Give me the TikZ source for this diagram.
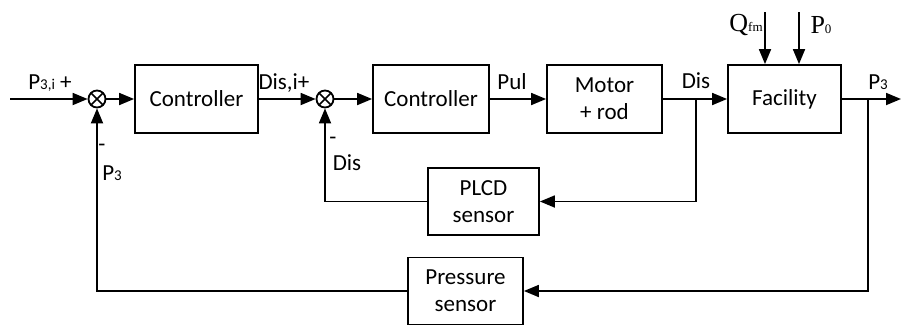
\documentclass[tikz,border=0pt]{standalone}
\usepackage{fontspec}
\setmainfont{Carlito}
\newfontfamily\serifF{Liberation Serif}
\usetikzlibrary{arrows.meta}
\begin{document}
\begin{tikzpicture}[x=1pt,y=-1pt,
  line width=1.8pt,
  font=\fontsize{23}{27}\selectfont,
  blk/.style={draw, minimum height=68pt, align=center, inner sep=0pt},
  sumnode/.style={draw, circle, minimum size=17pt, inner sep=0pt,
    path picture={\draw[line width=1.5pt] (path picture bounding box.north west) -- (path picture bounding box.south east)
      (path picture bounding box.north east) -- (path picture bounding box.south west);}},
  arr/.style={-{Triangle[length=15pt,width=12pt]}},
  lbl/.style={inner sep=0pt}
]
\useasboundingbox (0,0) rectangle (903,325);
\fill[white] (0,0) rectangle (903,325);

\node[sumnode] (s1) at (97,99) {};
\node[sumnode] (s2) at (325,99) {};
\node[blk, minimum width=123pt] (c1) at (196.5,99) {Controller};
\node[blk, minimum width=116pt] (c2) at (431,99) {Controller};
\node[blk, minimum width=115pt] (m) at (604.5,99) {Motor\\+ rod};
\node[blk, minimum width=113pt] (f) at (784.5,99) {Facility};
\node[blk, minimum width=111pt, minimum height=67pt] (pl) at (483.5,201.5) {PLCD\\sensor};
\node[blk, minimum width=115pt, minimum height=67pt] (ps) at (465.5,291) {Pressure\\sensor};

\coordinate (in) at (10,99);
\coordinate (out) at (901,99);
\coordinate (bd) at (696,99);
\coordinate (bp) at (868,99);
\coordinate (q0) at (765,12);
\coordinate (p0) at (799,12);

\draw[arr] (in) -- (s1);
\draw[arr] (s1) -- (c1);
\draw[arr] (c1) -- (s2);
\draw[arr] (s2) -- (c2);
\draw[arr] (c2) -- (m);
\draw[arr] (m) -- (f);
\draw[arr] (f) -- (out);
\draw[arr] (q0) -- (q0 |- f.north);
\draw[arr] (p0) -- (p0 |- f.north);
\draw[arr] (bd) |- (pl.east);
\draw[arr] (pl.west) -| (s2.south);
\draw[arr] (bp) |- (ps.east);
\draw[arr] (ps.west) -| (s1.south);

\node[lbl] (l1) at (50,83) {P{\fontsize{15}{15}\selectfont 3,i} +};
\node[lbl] (l2) at (284,83) {Dis,i+};
\node[lbl] (l3) at (512,82) {Pul};
\node[lbl] (l4) at (696,81) {Dis};
\node[lbl] (l5) at (878,82) {P{\fontsize{15}{15}\selectfont 3}};
\node[lbl] (l6) at (746,25) {\serifF\fontsize{26}{28}\selectfont Q{\fontsize{13}{13}\selectfont fm}};
\node[lbl] (l7) at (821,25) {\serifF\fontsize{26}{28}\selectfont P{\fontsize{13}{13}\selectfont 0}};
\node[lbl] (l8) at (102,148) {-};
\node[lbl] (l9) at (112,173) {P{\fontsize{15}{15}\selectfont 3}};
\node[lbl] (l10) at (333,141) {-};
\node[lbl] (l11) at (347,163) {Dis};
\end{tikzpicture}
\end{document}
